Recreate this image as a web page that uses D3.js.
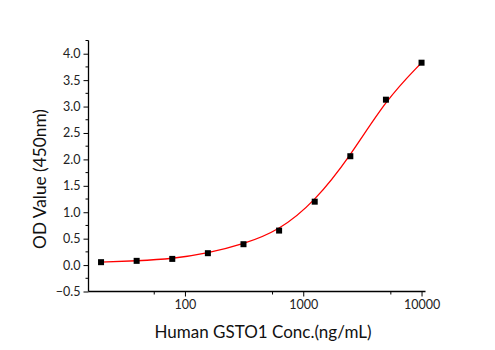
<!DOCTYPE html>
<html><head><meta charset="utf-8">
<script src="https://cdn.jsdelivr.net/npm/d3@7"></script>
<style>body{margin:0;background:#fff}svg{display:block}</style>
</head><body>
<script>
const concentrations = [19.53, 39.06, 78.13, 156.25, 312.5, 625, 1250, 2500, 5000, 10000];
const odValues = [0.055, 0.08, 0.117, 0.225, 0.395, 0.653, 1.20, 2.06, 3.13, 3.83];
const yTickValues = [-0.5, 0, 0.5, 1.0, 1.5, 2.0, 2.5, 3.0, 3.5, 4.0];
const yMinorValues = [-0.25, 0.25, 0.75, 1.25, 1.75, 2.25, 2.75, 3.25, 3.75, 4.25];
const xTickValues = [100, 1000, 10000];
const xMinorValues = [55, 550, 5500];
const xTitle = "Human GSTO1 Conc.(ng/mL)";
const yTitle = "OD Value (450nm)";

const W = 495, H = 350;
const svg = d3.select("body").append("svg").attr("width", W).attr("height", H);
const font = "Lato, 'Open Sans', sans-serif";

const x = d3.scaleLog().domain([15.3, 10800]).range([88.5, 425.5]);
const y = d3.scaleLinear().domain([-0.5, 4.25]).range([291.5, 40.5]);

const g = svg.append("g");

// y axis
const yAxis = g.append("g").attr("transform", `translate(${x.range()[0]},0)`)
  .call(d3.axisLeft(y).tickValues(yTickValues).tickSize(5).tickPadding(3)
    .tickFormat(d => d3.format(".1f")(d)));
yAxis.select(".domain").attr("stroke", "#000").attr("stroke-width", 1.3).attr("d", `M0,${y.range()[1]}V${y.range()[0]}`);
yAxis.selectAll("text").attr("font-family", font).attr("font-size", 12.5).attr("fill", "#222");
yAxis.append("g").selectAll("line").data(yMinorValues).join("line")
  .attr("x1", -3).attr("x2", 0).attr("y1", d => y(d)).attr("y2", d => y(d)).attr("stroke", "#000");

// x axis
const xAxis = g.append("g").attr("transform", `translate(0,${y.range()[0]})`)
  .call(d3.axisBottom(x).tickValues(xTickValues).tickSize(5).tickPadding(4)
    .tickFormat(d3.format("d")));
xAxis.select(".domain").attr("stroke", "#000").attr("stroke-width", 1.3).attr("d", `M${x.range()[0]},0H${x.range()[1]}`);
xAxis.selectAll("text").attr("font-family", font).attr("font-size", 12.5).attr("fill", "#222");
xAxis.append("g").selectAll("line").data(xMinorValues).join("line")
  .attr("x1", d => x(d)).attr("x2", d => x(d)).attr("y1", 0).attr("y2", 3).attr("stroke", "#000");

// titles
svg.append("text").attr("x", 263).attr("y", 338).attr("text-anchor", "middle")
  .attr("font-family", font).attr("font-size", 17).attr("fill", "#111").text(xTitle);
svg.append("text").attr("transform", `translate(46,179) rotate(-90)`).attr("text-anchor", "middle")
  .attr("font-family", font).attr("font-size", 17.3).attr("fill", "#111").text(yTitle);

// curve
const pts = concentrations.map((c, i) => [c, odValues[i]]);
g.append("path").datum(pts)
  .attr("d", d3.line().x(d => x(d[0])).y(d => y(d[1])).curve(d3.curveBasis))
  .attr("fill", "none").attr("stroke", "#ff0000").attr("stroke-width", 1.3);

// markers
g.selectAll("rect.pt").data(pts).join("rect").attr("class", "pt")
  .attr("x", d => x(d[0]) - 3).attr("y", d => y(d[1]) - 3)
  .attr("width", 6).attr("height", 6).attr("fill", "#000");
</script>
</body></html>
